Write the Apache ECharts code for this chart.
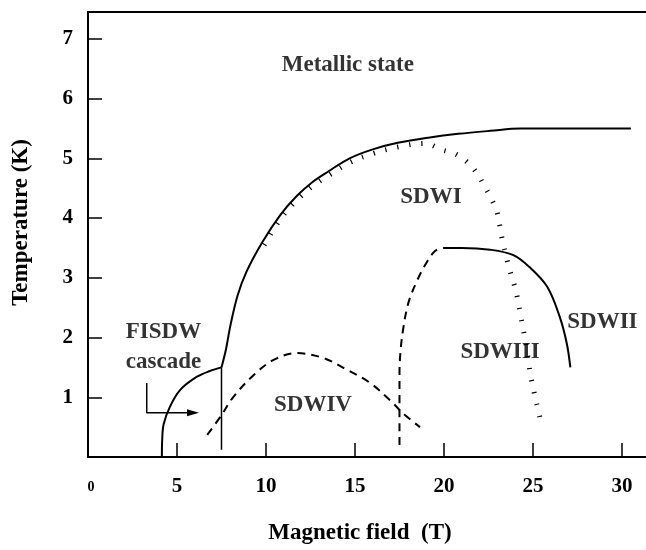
<!DOCTYPE html>
<html>
<head>
<meta charset="utf-8">
<script src="https://cdn.jsdelivr.net/npm/echarts@6/dist/echarts.min.js"></script>
<style>html,body{margin:0;padding:0;background:#fff}#c{width:646px;height:550px}</style>
</head>
<body>
<div id="c"></div>
<script>
// ---- data ----
const xTickValues = [5, 10, 15, 20, 25, 30];
const xLabelValues = [0, 5, 10, 15, 20, 25, 30];
const yTickValues = [1, 2, 3, 4, 5, 6, 7];

// metallic / SDWI boundary (solid)
const mainX = [7.5, 7.75, 8.0, 8.4, 8.9, 9.8, 10.8, 11.7, 12.6, 13.5, 14.7, 16.0, 17.4, 19.2, 20.8, 22.6, 24.3, 27.0, 30.5];
const mainY = [1.5, 1.8, 2.2, 2.7, 3.1, 3.6, 4.05, 4.36, 4.6, 4.78, 5.0, 5.15, 5.26, 5.35, 5.41, 5.46, 5.5, 5.5, 5.5];

// hatched boundary (under main curve, then SDWI/SDWIII border)
const hatchX = [9.9, 10.8, 11.7, 12.6, 13.5, 14.7, 16.0, 17.4, 18.9, 19.9, 20.6, 21.3, 21.85, 22.3, 22.7, 23.0, 23.15, 23.3, 23.5, 23.7, 23.95, 24.15, 24.3, 24.45, 24.6, 24.75, 24.85, 25.0, 25.2, 25.4];
const hatchY = [3.55, 3.98, 4.29, 4.53, 4.71, 4.93, 5.08, 5.19, 5.25, 5.14, 5.08, 4.94, 4.75, 4.52, 4.3, 4.08, 3.85, 3.6, 3.35, 3.12, 2.88, 2.63, 2.38, 2.14, 1.9, 1.6, 1.4, 1.17, 0.9, 0.65];

// SDWII boundary (solid)
const sdw2X = [19.95, 21.0, 22.6, 23.9, 24.8, 25.8, 26.5, 26.9, 27.1];
const sdw2Y = [3.5, 3.5, 3.47, 3.38, 3.18, 2.85, 2.35, 1.9, 1.5];

// SDWIII left boundary (dashed)
const sdw3X = [17.5, 17.5, 17.55, 17.7, 18.0, 18.5, 19.05, 19.5, 19.95];
const sdw3Y = [0.2, 1.4, 1.74, 2.13, 2.58, 2.96, 3.27, 3.45, 3.5];

// SDWIV dome (dashed)
const sdw4X = [6.7, 7.5, 8.15, 9.3, 10.4, 11.7, 13.2, 14.55, 15.85, 16.97, 17.7, 18.65];
const sdw4Y = [0.37, 0.7, 1.0, 1.37, 1.62, 1.74, 1.66, 1.46, 1.24, 0.95, 0.73, 0.5];

// FISDW cascade boundary (solid)
const fisdwX = [4.15, 4.17, 4.25, 4.6, 5.17, 6.1, 6.85, 7.5];
const fisdwY = [0.0, 0.3, 0.55, 0.84, 1.12, 1.34, 1.44, 1.5];

// vertical line at 7.5 T
const vlineX = [7.5, 7.5];
const vlineY = [0.12, 1.5];

// arrow
const arrowX = [3.3, 3.3, 5.9];
const arrowY = [1.24, 0.74, 0.74];

// region labels
const labelText = ['Metallic state', 'SDWI', 'SDWII', 'SDWIII', 'SDWIV', 'FISDW\ncascade'];
const labelX = [14.6, 19.27, 28.9, 23.15, 12.64, 4.24];
const labelY = [6.57, 4.36, 2.26, 1.76, 0.87, 1.84];

// ---- chart ----
const zip = (xs, ys) => xs.map((x, i) => [x, ys[i]]);
const FONT = '"Liberation Serif", "DejaVu Serif", serif';
const black = '#000';

const solid = (data, w) => ({
  type: 'line', data, smooth: 0.35, symbol: 'none', silent: true,
  lineStyle: { color: black, width: w || 2 }
});
const dashed = (data) => ({
  type: 'line', data, smooth: 0.35, symbol: 'none', silent: true,
  lineStyle: { color: black, width: 2, type: [8, 6] }
});

const arrowData = zip(arrowX, arrowY).map((p, i, a) =>
  i === a.length - 1 ? { value: p, symbol: 'triangle', symbolSize: [7, 12], symbolRotate: -90 } : { value: p });

const chart = echarts.init(document.getElementById('c'), null, { renderer: 'canvas' });
chart.setOption({
  animation: false,
  grid: { left: 88, right: 0, top: 12, bottom: 93, containLabel: false },
  xAxis: [{
    type: 'value', min: 0, max: 31.35, position: 'bottom',
    axisLine: { onZero: false, lineStyle: { color: black, width: 2 } },
    axisTick: { inside: true, length: 14, customValues: xTickValues, lineStyle: { color: black, width: 1.5 } },
    axisLabel: {
      customValues: xLabelValues, margin: 19, color: black, fontFamily: FONT, fontWeight: 'bold', fontSize: 21,
      formatter: v => v === 0 ? '{s|0}' : String(v),
      rich: { s: { fontSize: 14, fontFamily: FONT, fontWeight: 'bold', color: black, padding: [4, 0, 0, 6] } }
    },
    splitLine: { show: false },
    name: 'Magnetic field  (T)', nameLocation: 'middle', nameGap: 65,
    nameTextStyle: { color: black, fontFamily: FONT, fontWeight: 'bold', fontSize: 23, padding: [0, 14, 0, 0] }
  }, {
    type: 'value', min: 0, max: 31.35, position: 'top',
    axisLine: { onZero: false, lineStyle: { color: black, width: 2 } },
    axisTick: { show: false }, axisLabel: { show: false }, splitLine: { show: false }
  }],
  yAxis: {
    type: 'value', min: 0, max: 7.45,
    axisLine: { onZero: false, lineStyle: { color: black, width: 2 } },
    axisTick: { inside: true, length: 14, customValues: yTickValues, lineStyle: { color: black, width: 1.5 } },
    axisLabel: { customValues: yTickValues, margin: 15, color: black, fontFamily: FONT, fontWeight: 'bold', fontSize: 21 },
    splitLine: { show: false },
    name: 'Temperature (K)', nameLocation: 'middle', nameGap: 55, nameRotate: 90,
    nameTextStyle: { color: black, fontFamily: FONT, fontWeight: 'bold', fontSize: 23, padding: [0, 0, 0, 24] }
  },
  series: [
    solid(zip(mainX, mainY)),
    {
      type: 'line', data: zip(hatchX, hatchY), smooth: 0.35, symbol: 'none', silent: true,
      lineStyle: { color: black, width: 5, type: [1.2, 11], cap: 'butt' }
    },
    solid(zip(sdw2X, sdw2Y)),
    dashed(zip(sdw3X, sdw3Y)),
    dashed(zip(sdw4X, sdw4Y)),
    solid(zip(fisdwX, fisdwY)),
    { type: 'line', data: zip(vlineX, vlineY), symbol: 'none', silent: true, lineStyle: { color: black, width: 1.5 } },
    { type: 'line', data: arrowData, symbol: 'none', showSymbol: true, silent: true,
      itemStyle: { color: black }, lineStyle: { color: black, width: 1.5 } },
    {
      type: 'scatter', symbolSize: 0, silent: true,
      data: labelText.map((t, i) => ({ name: t, value: [labelX[i], labelY[i]] })),
      label: { show: true, position: 'inside', formatter: p => p.name, color: black,
        fontFamily: FONT, fontWeight: 'bold', fontSize: 23, lineHeight: 30, align: 'center', verticalAlign: 'middle' }
    }
  ]
});
</script>
</body>
</html>
